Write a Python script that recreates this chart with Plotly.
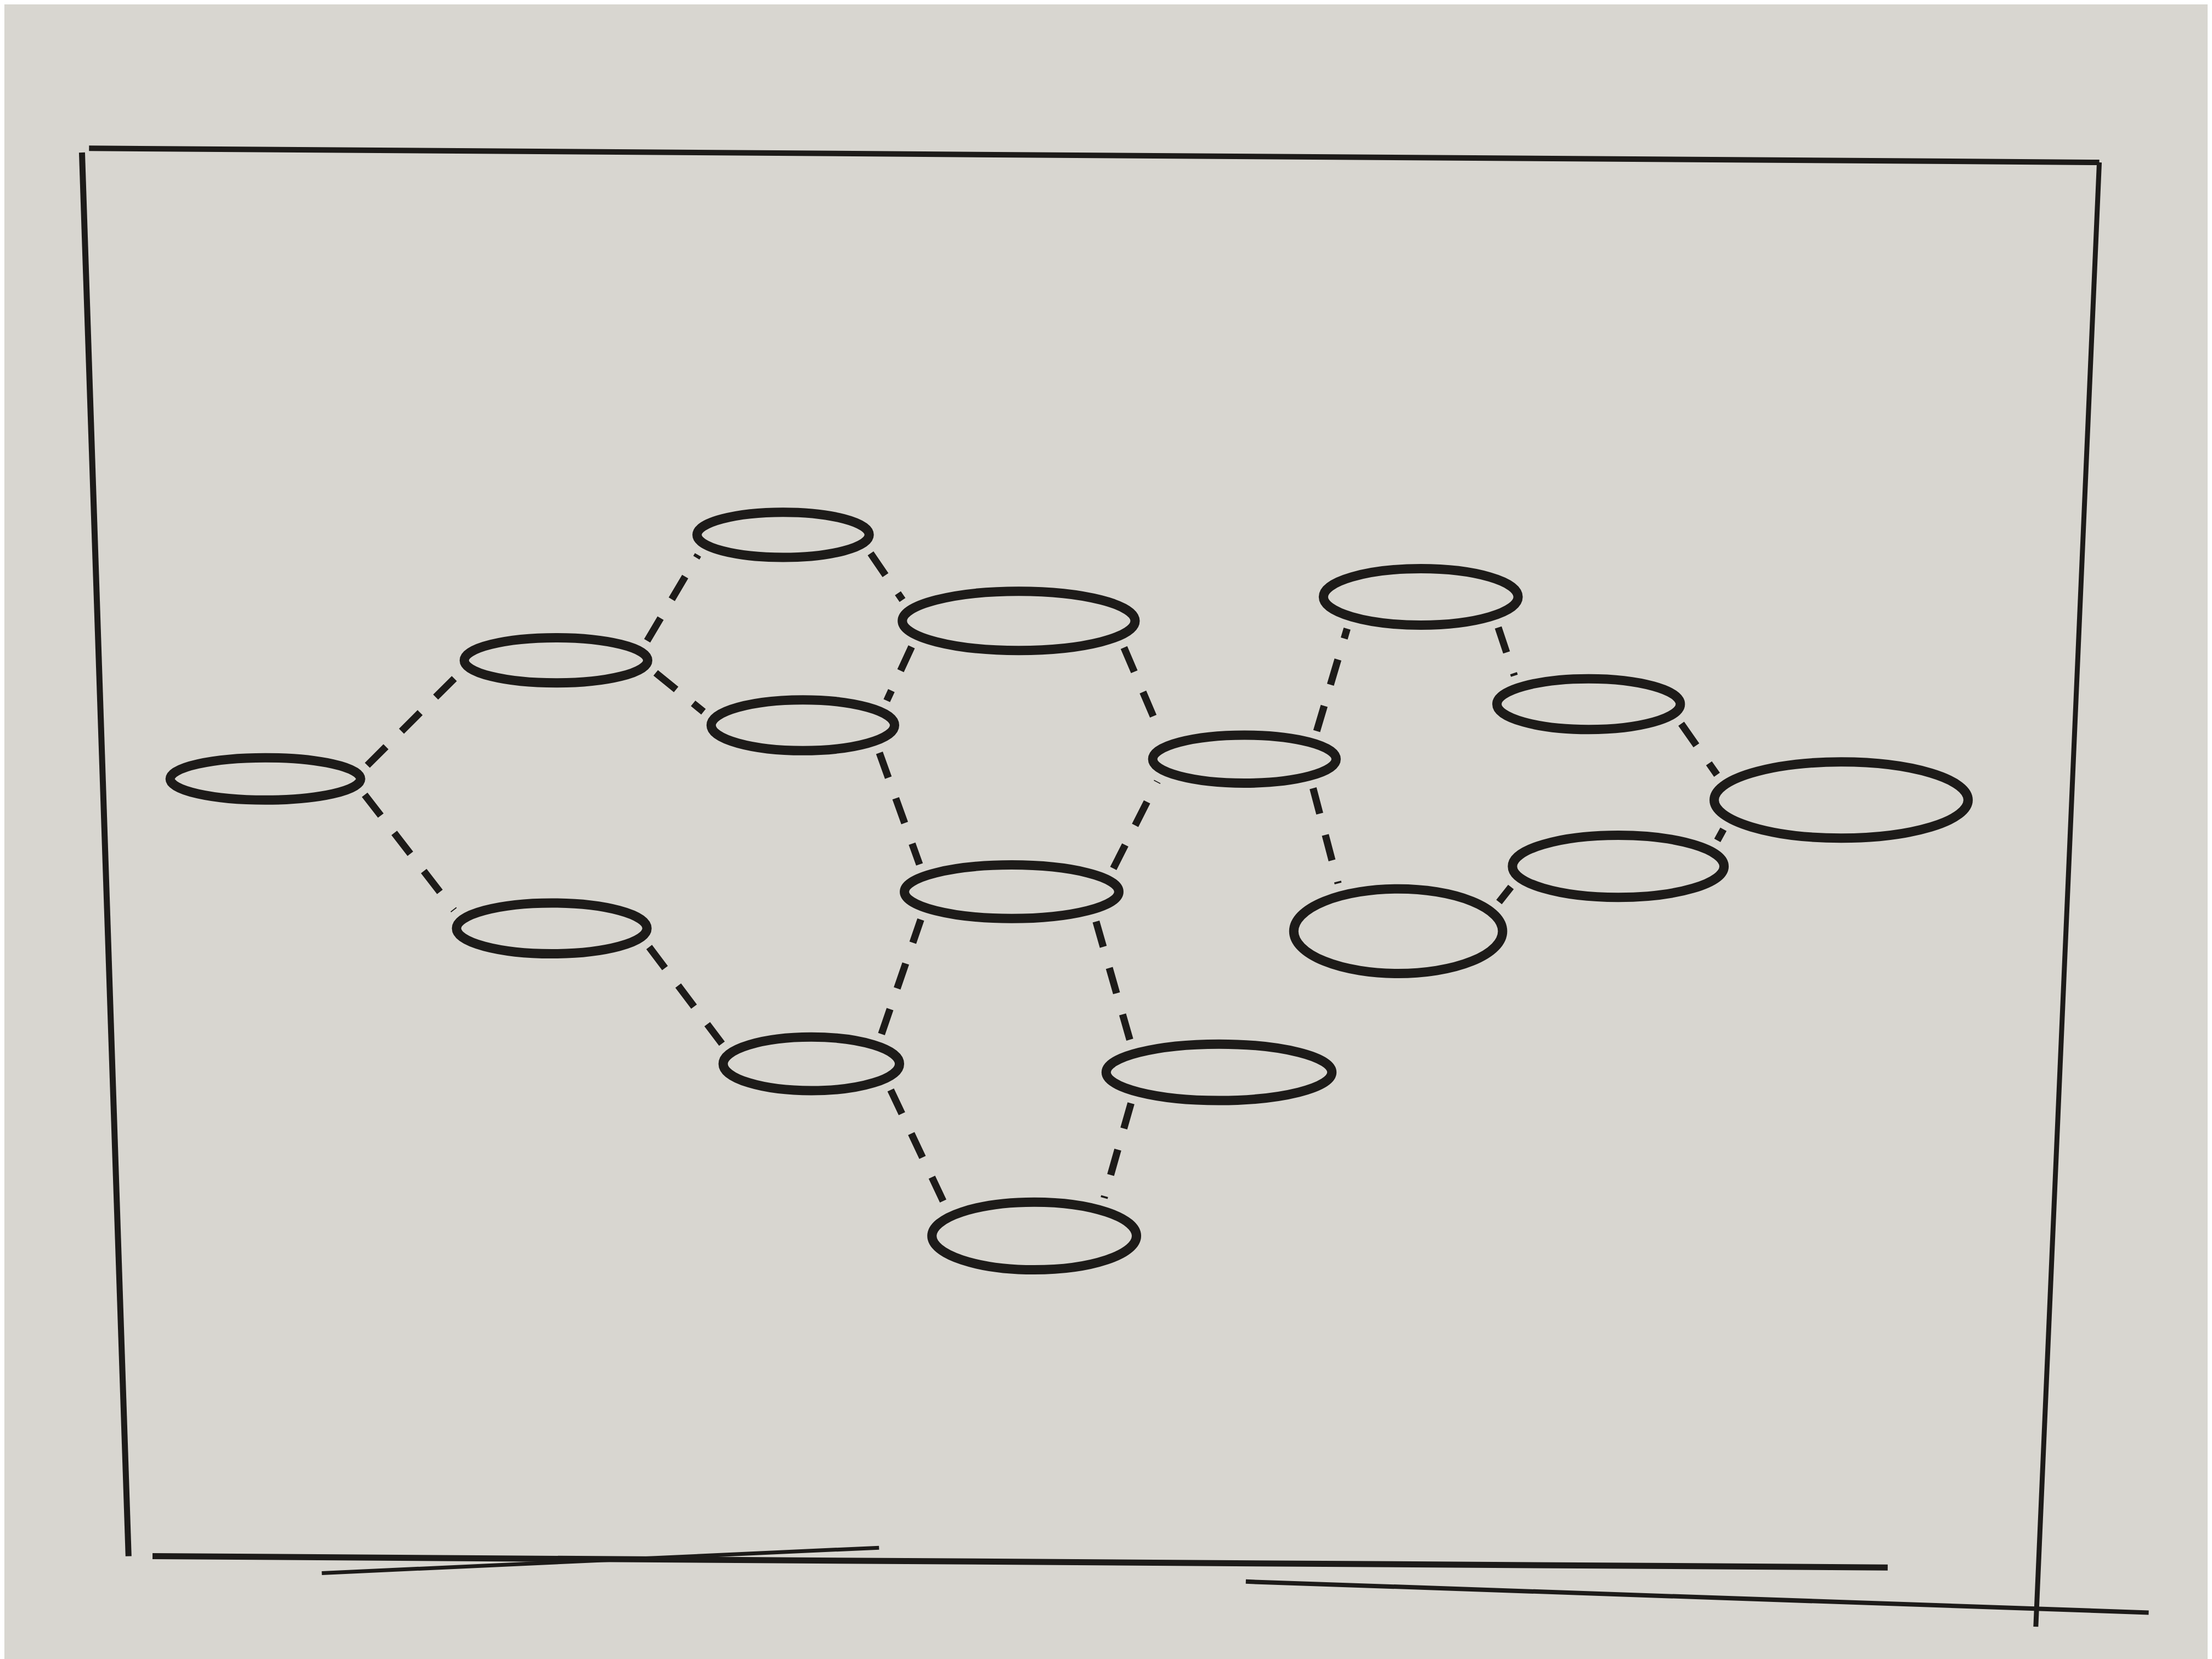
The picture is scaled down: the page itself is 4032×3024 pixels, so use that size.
import numpy as np
import plotly.graph_objects as go

# Node data (sketch coordinates)
node_names = ["A", "B", "C", "D", "E", "F", "G", "H", "I", "J", "K", "L", "M", "N", "O", "P"]
node_x = [185, 391, 552, 566, 719, 388, 572, 714, 879, 861, 730, 1004, 1123, 1302, 1144, 988]
node_y = [549, 465, 376, 511, 437, 655, 751, 629, 535, 757, 873, 420, 496, 564, 611, 657]
node_w = [135, 130, 122, 130, 165, 135, 125, 152, 130, 160, 145, 138, 130, 180, 150, 148]
node_h = [30, 32, 32, 36, 42, 36, 38, 38, 34, 40, 48, 40, 36, 54, 44, 60]

edge_src = ["A", "A", "B", "B", "C", "E", "E", "D", "H", "F", "G", "H", "G", "J", "I", "I", "L", "M", "N", "O"]
edge_dst = ["B", "F", "C", "D", "E", "D", "I", "H", "I", "G", "H", "J", "K", "K", "L", "P", "M", "N", "O", "P"]

W, H = 4032, 3024
XMAX, YMAX = 1568, 1176
INK = "#1d1b19"
BG = "#d8d6d0"

idx = {n: i for i, n in enumerate(node_names)}
theta = np.linspace(0, 2 * np.pi, 720, endpoint=False)


def outline(i):
    return (node_x[i] + node_w[i] / 2 * np.cos(theta),
            node_y[i] + node_h[i] / 2 * np.sin(theta))


ex, ey = [], []
GAP = 9
for s, d in zip(edge_src, edge_dst):
    i, j = idx[s], idx[d]
    xi, yi = outline(i)
    xj, yj = outline(j)
    dist = np.hypot(xi[:, None] - xj[None, :], yi[:, None] - yj[None, :])
    a, b = np.unravel_index(np.argmin(dist), dist.shape)
    p0 = np.array([xi[a], yi[a]])
    p1 = np.array([xj[b], yj[b]])
    v = p1 - p0
    L = np.hypot(*v)
    u = v / L
    q0 = p0 + u * GAP
    q1 = p1 - u * GAP
    ex += [q0[0], q1[0], None]
    ey += [q0[1], q1[1], None]

fig = go.Figure()
fig.add_trace(go.Scatter(
    x=ex, y=ey, mode="lines",
    line=dict(color=INK, width=13, dash="48px,40px"),
    hoverinfo="skip", showlegend=False,
))

shapes = []
for i in range(len(node_names)):
    shapes.append(dict(
        type="circle", xref="x", yref="y",
        x0=node_x[i] - node_w[i] / 2, x1=node_x[i] + node_w[i] / 2,
        y0=node_y[i] - node_h[i] / 2, y1=node_y[i] + node_h[i] / 2,
        line=dict(color=INK, width=17), fillcolor="rgba(0,0,0,0)",
    ))

# hand-drawn frame
frame = [
    (60, 102, 1485, 112, 10),
    (55, 105, 88, 1100, 11),
    (1485, 112, 1440, 1150, 9),
    (105, 1100, 1335, 1108, 11),
    (880, 1118, 1520, 1140, 8),
    (225, 1112, 620, 1094, 7),
]
for x0, y0, x1, y1, w in frame:
    shapes.append(dict(type="line", xref="x", yref="y", x0=x0, y0=y0, x1=x1, y1=y1,
                       line=dict(color=INK, width=w)))

fig.update_layout(
    width=W, height=H,
    margin=dict(l=0, r=0, t=0, b=0),
    paper_bgcolor=BG, plot_bgcolor=BG,
    shapes=shapes,
    xaxis=dict(range=[0, XMAX], visible=False, showgrid=False, zeroline=False, fixedrange=True),
    yaxis=dict(range=[YMAX, 0], visible=False, showgrid=False, zeroline=False, fixedrange=True),
)

fig.write_html("out.html")
